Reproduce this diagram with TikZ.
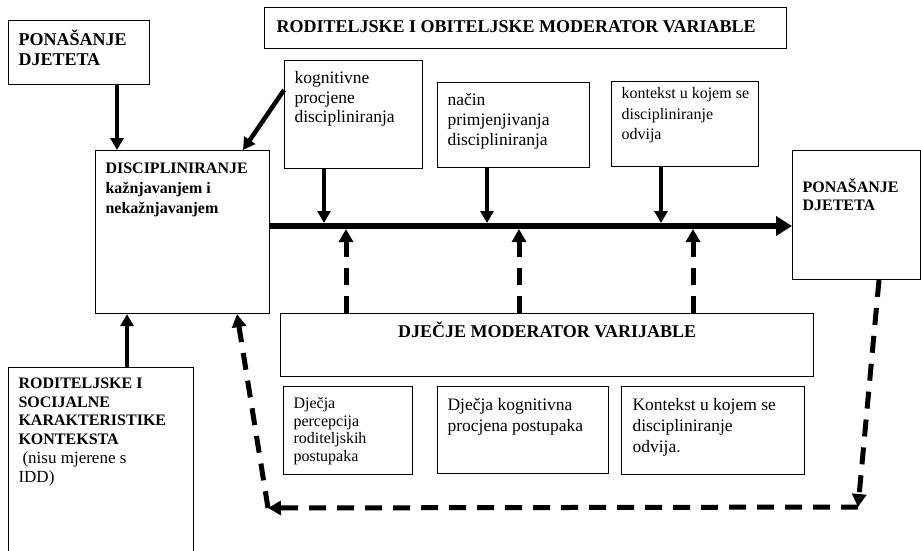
\documentclass[tikz,border=0pt]{standalone}
\usepackage{fontspec}
\setmainfont{Liberation Serif}
\usetikzlibrary{arrows.meta}
\newcommand\bt[4]{\parbox[c][#3pt][t]{#2pt}{\raggedright\rule{0pt}{#1pt}#4}}
\newcommand\fsz[2]{\fontsize{#1pt}{#2pt}\selectfont}
\begin{document}
\begin{tikzpicture}[x=1pt,y=-1pt,
  bx/.style={draw, line width=1.1pt, inner ysep=0pt, inner xsep=10pt, anchor=north west},
  arr/.style={line width=4.5pt, -{Triangle[length=12pt,width=13pt]}},
  darr/.style={line width=5pt, dash pattern=on 17pt off 11pt, -{Triangle[length=13pt,width=14pt]}}]
\clip (0,0) rectangle (921,550);
\fill[white] (0,0) rectangle (921,550);
% boxes
\node[bx] (A) at (8,20) {\bt{25}{121}{64}{\fsz{18}{20}\bfseries PONAŠANJE\\DJETETA}};
\node[bx] (B) at (95,150) {\bt{23}{154}{163}{\fsz{16}{20}\bfseries DISCIPLINIRANJE\\kažnjavanjem i\\nekažnjavanjem}};
\node[bx, inner xsep=12pt] (T) at (264,7) {\bt{25}{498}{41}{\fsz{18}{20}\bfseries RODITELJSKE I OBITELJSKE MODERATOR VARIABLE}};
\node[bx] (K1) at (284,60) {\bt{23}{118}{108}{\fsz{17.5}{19.5}kognitivne\\procjene\\discipliniranja}};
\node[bx] (K2) at (437,82) {\bt{23}{132}{85}{\fsz{17.5}{20}način\\primjenjivanja\\discipliniranja}};
\node[bx] (K3) at (611,81) {\bt{17}{127}{85}{\fsz{16}{20.5}\mbox{kontekst u kojem se}\\discipliniranje\\odvija}};
\node[bx] (R) at (792,150) {\bt{42}{108}{129}{\fsz{16}{18}\bfseries PONAŠANJE\\DJETETA}};
\node[bx] (D) at (280,313) {\bt{24}{513}{63}{\centering\fsz{18}{20}\bfseries DJEČJE MODERATOR VARIJABLE}};
\node[bx] (P1) at (283,386) {\bt{22}{109}{88}{\fsz{16}{17.5}Dječja\\percepcija\\roditeljskih\\postupaka}};
\node[bx] (P2) at (437,386) {\bt{24}{151}{87}{\fsz{17.5}{21}Dječja kognitivna\\procjena postupaka}};
\node[bx, inner xsep=11pt] (P3) at (621,386) {\bt{24}{161}{88}{\fsz{17.5}{21}Kontekst u kojem se\\discipliniranje\\odvija.}};
\node[bx] (S) at (8,367) {\bt{21}{165}{200}{\fsz{16}{18.7}\textbf{RODITELJSKE I\\SOCIJALNE\\KARAKTERISTIKE\\KONTEKSTA}\\\fsz{17}{18.7}\hspace*{4pt}(nisu mjerene s\\IDD)}};
% coordinates on the main line and loop corners
\coordinate (d1) at (324,223);
\coordinate (d2) at (487,223);
\coordinate (d3) at (661,223);
\coordinate (u1) at (346,229);
\coordinate (u2) at (519,229);
\coordinate (u3) at (693,229);
\coordinate (c1) at (858,507);
\coordinate (c2) at (268,508);
% main arrow
\draw[line width=6pt, -{Triangle[length=16pt,width=19pt]}] (B.east |- 0,226) -- (R.west |- 0,226);
% solid arrows
\draw[arr] (117,0 |- A.south) -- (117,0 |- B.north);
\draw[arr] ([yshift=-30pt]K1.north west) -- (243,0 |- B.north);
\draw[arr] (127,0 |- S.north) -- (127,0 |- B.south);
\draw[arr] (324,0 |- K1.south) -- (d1);
\draw[arr] (487,0 |- K2.south) -- (d2);
\draw[arr] (661,0 |- K3.south) -- (d3);
% dashed arrows
\draw[darr] (346,0 |- D.north) -- (u1);
\draw[darr] (519,0 |- D.north) -- (u2);
\draw[darr] (693,0 |- D.north) -- (u3);
\draw[darr] (879,0 |- R.south) -- (c1);
\draw[darr] (c1) -- (c2);
\draw[darr] (c2) -- (237,0 |- B.south);
\end{tikzpicture}
\end{document}
